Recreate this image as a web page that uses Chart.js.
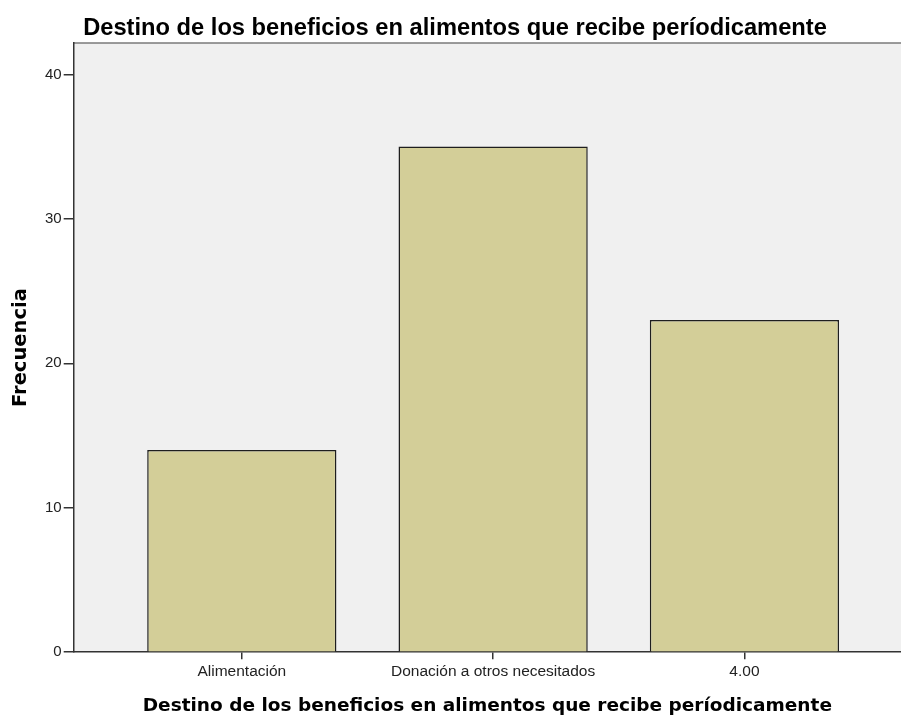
<!DOCTYPE html>
<html>
<head>
<meta charset="utf-8">
<script src="https://cdn.jsdelivr.net/npm/chart.js@4/dist/chart.umd.min.js"></script>
<style>
  html, body { margin: 0; padding: 0; background: #fff; overflow: hidden; }
  #wrap { width: 901px; height: 717px; }
</style>
</head>
<body>
<div id="wrap"><canvas id="chart"></canvas></div>
<script>
// data
const categories = ["Alimentación", "Donación a otros necesitados", "4.00"];
const frequencies = [14, 35, 23];
const yTicks = [0, 10, 20, 30, 40];
const titleText = "Destino de los beneficios en alimentos que recibe períodicamente";

// grey plot background + top border line
const plotBg = {
  id: "plotBg",
  beforeDraw(chart) {
    const { ctx, chartArea: a } = chart;
    ctx.save();
    ctx.fillStyle = "#f0f0f0";
    ctx.fillRect(a.left, a.top, a.right - a.left, a.bottom - a.top);
    ctx.strokeStyle = "#7a7a7a";
    ctx.lineWidth = 1.5;
    ctx.beginPath();
    ctx.moveTo(a.left, a.top);
    ctx.lineTo(a.right, a.top);
    ctx.stroke();
    ctx.restore();
  }
};

const ctx = document.getElementById("chart").getContext("2d");
new Chart(ctx, {
  type: "bar",
  data: {
    datasets: [{
      data: frequencies.map((v, i) => ({ x: i, y: v })),
      backgroundColor: "#d3ce98",
      borderColor: "#1e1e1e",
      borderWidth: 1.5,
      barPercentage: 0.753,
      categoryPercentage: 1.0
    }]
  },
  options: {
    responsive: true,
    maintainAspectRatio: false,
    animation: false,
    layout: { padding: { left: 9, right: 0, top: 0, bottom: 0 } },
    plugins: {
      legend: { display: false },
      tooltip: { enabled: false },
      title: {
        display: true,
        text: titleText,
        color: "#000",
        font: { family: "Liberation Sans", size: 23.7, weight: "bold" },
        padding: { top: 14, bottom: 0.6 }
      }
    },
    scales: {
      x: {
        type: "linear",
        offset: false,
        min: -0.669,
        max: 2.623,
        afterBuildTicks: (scale) => { scale.ticks = categories.map((c, i) => ({ value: i })); },
        ticks: {
          callback: (v) => categories[v],
          color: "#222",
          font: { family: "Liberation Sans", size: 15.5 },
          padding: 3.5,
          maxRotation: 0,
          autoSkip: false
        },
        grid: { offset: false, drawOnChartArea: false, tickLength: 7, color: "#333", lineWidth: 1.5 },
        border: { display: true, color: "#333", width: 1.5 },
        title: {
          display: true,
          text: titleText,
          color: "#000",
          font: { family: "DejaVu Sans", size: 18.5, weight: "bold" },
          padding: { top: 10, bottom: 0 }
        }
      },
      y: {
        min: 0,
        max: 42.17,
        afterBuildTicks: (scale) => { scale.ticks = yTicks.map(v => ({ value: v })); },
        ticks: {
          color: "#222",
          font: { family: "Liberation Sans", size: 15 },
          padding: 2
        },
        grid: { drawOnChartArea: false, tickLength: 10, color: "#333", lineWidth: 1.5 },
        border: { display: true, color: "#333", width: 1.5 },
        title: {
          display: true,
          text: "Frecuencia",
          color: "#000",
          font: { family: "DejaVu Sans", size: 19.5, weight: "bold" },
          padding: { top: 0, bottom: 10.6 }
        }
      }
    }
  },
  plugins: [plotBg]
});
</script>
</body>
</html>
